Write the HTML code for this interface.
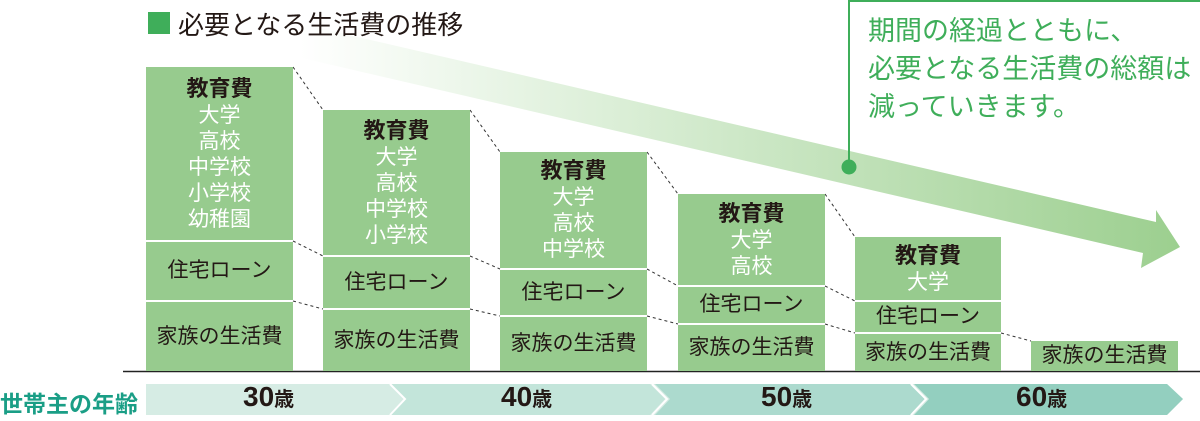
<!DOCTYPE html>
<html><head><meta charset="utf-8"><style>
body{margin:0;width:1200px;height:421px;background:#fff;position:relative;overflow:hidden;font-family:"Liberation Sans","Noto Sans CJK JP",sans-serif;}
.b{position:absolute;background:#97cb8e;color:#231815;text-align:center;display:flex;flex-direction:column;justify-content:center;align-items:center;font-size:21px;line-height:26px;}
.e{font-size:22px;font-weight:bold;line-height:28px;}
.w{color:#fff;font-size:21px;line-height:26px;}
.t{position:absolute;white-space:nowrap;}
</style></head><body>
<svg width="1200" height="421" style="position:absolute;left:0;top:0">
<defs><linearGradient id="g" x1="300" y1="0" x2="1180" y2="0" gradientUnits="userSpaceOnUse">
<stop offset="0" stop-color="#fff"/><stop offset="0.35" stop-color="#dcefd8"/><stop offset="1" stop-color="#9ccf8f"/></linearGradient></defs>
<polygon points="250,12 1156,222 1156,210 1180,247 1141,268 1143,253 250,46" fill="url(#g)"/>
<line x1="849" y1="0" x2="849" y2="166" stroke="#3fae5a" stroke-width="2"/>
<line x1="849" y1="1" x2="1200" y2="1" stroke="#3fae5a" stroke-width="2"/>
<circle cx="849" cy="167" r="7.5" fill="#3fae5a"/>
<g stroke="#333" stroke-width="1" stroke-dasharray="3,3" fill="none">
<line x1="293" y1="67" x2="323" y2="110"/><line x1="293" y1="241" x2="323" y2="256"/><line x1="293" y1="301" x2="323" y2="309"/>
<line x1="470" y1="110" x2="500" y2="152"/><line x1="470" y1="256" x2="500" y2="269"/><line x1="470" y1="309" x2="500" y2="316"/>
<line x1="647" y1="152" x2="678" y2="194"/><line x1="647" y1="269" x2="678" y2="286"/><line x1="647" y1="316" x2="678" y2="324"/>
<line x1="825" y1="194" x2="855" y2="237"/><line x1="825" y1="286" x2="855" y2="301"/><line x1="825" y1="324" x2="855" y2="333"/>
<line x1="1001" y1="333" x2="1031" y2="341"/>
</g>
<line x1="123" y1="371.5" x2="1200" y2="371.5" stroke="#222" stroke-width="1.5"/>
<polygon points="146,384 1167,384 1183,399 1167,415 146,415" fill="#d6ece4"/>
<polygon points="390,384 650,384 665,399 650,415 390,415 405,399" fill="#c3e5da"/>
<polygon points="655,384 910,384 925,399 910,415 655,415 670,399" fill="#acdace"/>
<polygon points="914,384 1167,384 1183,399 1167,415 914,415 929,399" fill="#93cfbf"/>
<polyline points="390,384 405,399 390,415" stroke="#fff" stroke-width="2" fill="none"/>
<polyline points="652,384 667,399 652,415" stroke="#fff" stroke-width="2" fill="none"/>
<polyline points="911,384 926,399 911,415" stroke="#fff" stroke-width="2" fill="none"/>
</svg>
<div class="t" style="left:148px;top:12px;width:22px;height:22px;background:#3fae5a"></div>
<div class="t" style="left:178px;top:5px;font-size:26px;color:#231815;">必要となる生活費の推移</div>
<div class="t" style="left:868px;top:12px;font-size:27px;line-height:38px;color:#3fae5a;">期間の経過とともに、<br>必要となる生活費の総額は<br>減っていきます。</div>

<div class="b" style="left:146px;top:67px;width:147px;height:173px"><div class="e">教育費</div><div class="w">大学<br>高校<br>中学校<br>小学校<br>幼稚園</div></div>
<div class="b" style="left:146px;top:242px;width:147px;height:58px">住宅ローン</div>
<div class="b" style="left:146px;top:302px;width:147px;height:69px">家族の生活費</div>

<div class="b" style="left:323px;top:110px;width:147px;height:145px"><div class="e">教育費</div><div class="w">大学<br>高校<br>中学校<br>小学校</div></div>
<div class="b" style="left:323px;top:257px;width:147px;height:51px">住宅ローン</div>
<div class="b" style="left:323px;top:310px;width:147px;height:61px">家族の生活費</div>

<div class="b" style="left:500px;top:152px;width:147px;height:116px"><div class="e">教育費</div><div class="w">大学<br>高校<br>中学校</div></div>
<div class="b" style="left:500px;top:270px;width:147px;height:45px">住宅ローン</div>
<div class="b" style="left:500px;top:317px;width:147px;height:54px">家族の生活費</div>

<div class="b" style="left:678px;top:194px;width:147px;height:91px"><div class="e">教育費</div><div class="w">大学<br>高校</div></div>
<div class="b" style="left:678px;top:287px;width:147px;height:36px">住宅ローン</div>
<div class="b" style="left:678px;top:325px;width:147px;height:46px">家族の生活費</div>

<div class="b" style="left:855px;top:237px;width:146px;height:63px"><div class="e">教育費</div><div class="w">大学</div></div>
<div class="b" style="left:855px;top:302px;width:146px;height:30px">住宅ローン</div>
<div class="b" style="left:855px;top:334px;width:146px;height:37px">家族の生活費</div>

<div class="b" style="left:1031px;top:341px;width:147px;height:30px">家族の生活費</div>

<div class="t" style="left:0;top:385px;font-size:23px;font-weight:bold;color:#1a9e86;">世帯主の年齢</div>
<div class="t" style="left:243px;top:381px;font-size:28px;font-weight:bold;color:#231815;">30<span style="font-size:20px">歳</span></div>
<div class="t" style="left:501px;top:381px;font-size:28px;font-weight:bold;color:#231815;">40<span style="font-size:20px">歳</span></div>
<div class="t" style="left:761px;top:381px;font-size:28px;font-weight:bold;color:#231815;">50<span style="font-size:20px">歳</span></div>
<div class="t" style="left:1016px;top:381px;font-size:28px;font-weight:bold;color:#231815;">60<span style="font-size:20px">歳</span></div>
</body></html>
